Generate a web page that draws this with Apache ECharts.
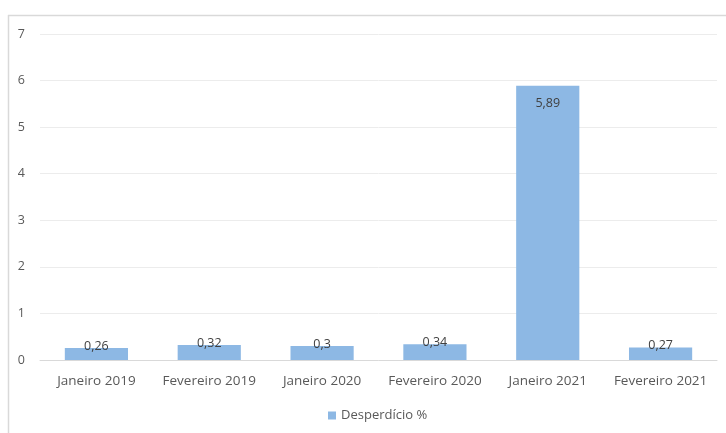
<!DOCTYPE html>
<html><head><meta charset="utf-8">
<script src="https://cdn.jsdelivr.net/npm/echarts@6/dist/echarts.min.js"></script>
<style>html,body{margin:0;padding:0;background:#fff}#c{width:726px;height:433px}</style>
</head><body><div id="c"></div>
<script>
const categories = ['Janeiro 2019','Fevereiro 2019','Janeiro 2020','Fevereiro 2020','Janeiro 2021','Fevereiro 2021'];
const values = [0.26, 0.32, 0.3, 0.34, 5.89, 0.27];
const labels = ['0,26','0,32','0,3','0,34','5,89','0,27'];
const seriesName = 'Desperdício %';
const yTicks = [0,1,2,3,4,5,6,7];

const font = '"Open Sans", Lato, sans-serif';
const chart = echarts.init(document.getElementById('c'), null, {renderer:'canvas'});
chart.setOption({
  animation:false,
  textStyle:{fontFamily:font},
  graphic:[
    {type:'line', shape:{x1:8,y1:15.5,x2:726,y2:15.5}, style:{stroke:'#d9d9d9', lineWidth:1.5}},
    {type:'line', shape:{x1:8.5,y1:15,x2:8.5,y2:433}, style:{stroke:'#d9d9d9', lineWidth:1.5}}
  ],
  grid:{left:40, right:9, top:34, bottom:73},
  legend:{top:404, left:323, itemWidth:8, itemHeight:8, itemGap:3,
    textStyle:{fontFamily:font, fontSize:13, color:'#595959'}, data:[{name:seriesName, icon:'rect'}]},
  xAxis:{type:'category', data:categories,
    axisLine:{lineStyle:{color:'#d9d9d9', width:1}}, axisTick:{show:false},
    axisLabel:{color:'#595959', fontSize:13.5, fontFamily:font, margin:14, interval:0}},
  yAxis:{type:'value', min:0, max:7, interval:1,
    axisLine:{show:false}, axisTick:{show:false},
    splitLine:{lineStyle:{color:'#ececec', width:1}},
    axisLabel:{color:'#595959', fontSize:12.5, fontFamily:font, margin:15,
      formatter:v=>yTicks.includes(v)?String(v):''}},
  series:[{
    name:seriesName, type:'bar', barWidth:'56%',
    itemStyle:{color:'#8db8e4'},
    data: values.map((v,i)=>({value:v,
      label: v>1 ? {show:true, position:'insideTop', distance:11, formatter:labels[i]}
                 : {show:true, position:'top', distance:-5, formatter:labels[i]}})),
    label:{color:'#404040', fontSize:12.5, fontFamily:font}
  }]
});
</script></body></html>
